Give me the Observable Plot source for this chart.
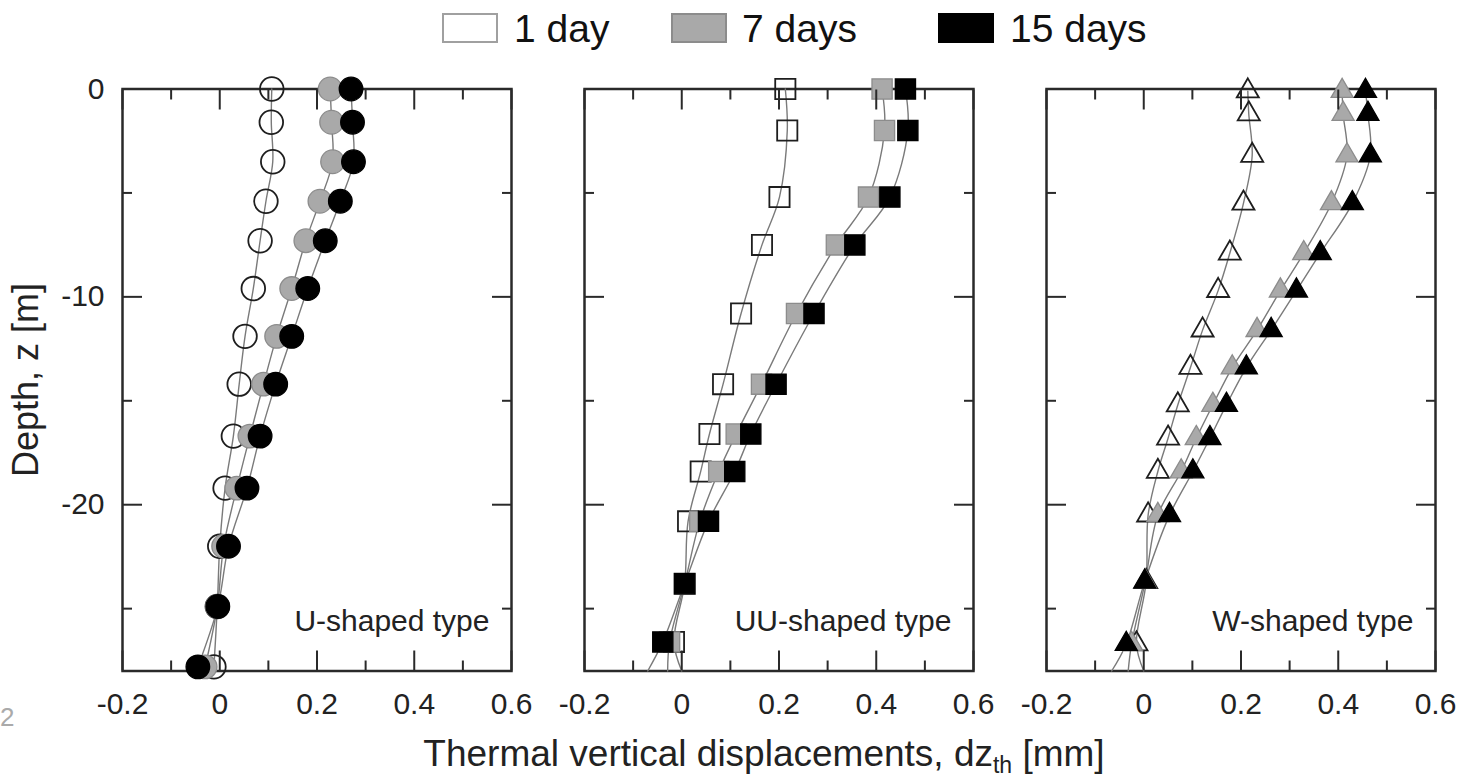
<!DOCTYPE html>
<html><head><meta charset="utf-8">
<script src="https://cdn.jsdelivr.net/npm/d3@7"></script>
<script src="https://cdn.jsdelivr.net/npm/@observablehq/plot@0.6"></script>
<style>
body{margin:0;background:#fff;width:1458px;height:776px;overflow:hidden;font-family:"Liberation Sans",Arial,sans-serif;position:relative;}
#legend{position:relative;height:60px;}
.sw{position:absolute;top:13px;width:56px;height:30px;box-sizing:border-box;}
.lt{position:absolute;top:9px;font-size:39px;line-height:40px;color:#111;white-space:nowrap;}
#chart{position:relative;height:716px;}
#stray{position:absolute;left:0px;top:702px;font-size:26px;color:#aaa;}
</style></head><body>
<div id="legend"></div>
<div id="chart"></div>
<div id="stray">2</div>
<script>
// ---------- data ----------
const panels = ["U-shaped type", "UU-shaped type", "W-shaped type"];
const seriesNames = ["1 day", "7 days", "15 days"];

// U-shaped type (circles)
const depthU = [0, -1.6, -3.5, -5.4, -7.3, -9.6, -11.9, -14.2, -16.7, -19.2, -22.0, -24.9, -27.8];
const u1  = [0.107, 0.106, 0.109, 0.095, 0.083, 0.069, 0.052, 0.040, 0.028, 0.011, 0.000, -0.005, -0.012];
const u7  = [0.227, 0.230, 0.232, 0.206, 0.177, 0.148, 0.117, 0.090, 0.062, 0.035, 0.008, -0.005, -0.030];
const u15 = [0.270, 0.273, 0.275, 0.248, 0.217, 0.181, 0.148, 0.115, 0.083, 0.056, 0.018, -0.004, -0.045];

// UU-shaped type (squares)
const depthUU = [0, -2.0, -5.2, -7.5, -10.8, -14.2, -16.6, -18.4, -20.8, -23.8, -26.6];
const uu1  = [0.213, 0.217, 0.201, 0.165, 0.122, 0.085, 0.057, 0.039, 0.013, 0.006, -0.016];
const uu7  = [0.412, 0.417, 0.384, 0.318, 0.236, 0.164, 0.112, 0.076, 0.037, 0.006, -0.025];
const uu15 = [0.460, 0.465, 0.428, 0.356, 0.272, 0.194, 0.142, 0.109, 0.055, 0.006, -0.039];

// W-shaped type (triangles)
const depthW = [-0.1, -1.2, -3.2, -5.5, -7.9, -9.7, -11.6, -13.4, -15.2, -16.8, -18.4, -20.5, -23.7, -26.7];
const w1  = [0.214, 0.216, 0.223, 0.205, 0.177, 0.153, 0.121, 0.096, 0.070, 0.050, 0.029, 0.009, 0.005, -0.015];
const w7  = [0.408, 0.410, 0.418, 0.386, 0.329, 0.281, 0.233, 0.182, 0.142, 0.108, 0.077, 0.029, 0.003, -0.025];
const w15 = [0.456, 0.461, 0.466, 0.429, 0.363, 0.314, 0.262, 0.211, 0.170, 0.136, 0.101, 0.053, 0.002, -0.036];

// where the fitted curves meet the bottom of the frame (depth -28 m)
const curveEndDepth = -28;
const endUU = [0.000, -0.029, -0.070];
const endW  = [0.000, -0.032, -0.066];

const xMajor = [-0.2, 0, 0.2, 0.4, 0.6];
const xMinor = [-0.1, 0.1, 0.3, 0.5];
const yMajor = [0, -10, -20];
const yMinor = [-5, -15, -25];

// ---------- tables ----------
const sources = [
  {panel: panels[0], depth: depthU,  vals: [u1, u7, u15],    end: null,  symbol: "circle",   r: 11.8},
  {panel: panels[1], depth: depthUU, vals: [uu1, uu7, uu15], end: endUU, symbol: "square",   r: 11.4},
  {panel: panels[2], depth: depthW,  vals: [w1, w7, w15],    end: endW,  symbol: "triangle", r: 8.2}
];
const points = [], curves = [];
sources.forEach(s => {
  s.vals.forEach((v, k) => {
    v.forEach((dz, i) => {
      const row = {panel: s.panel, series: seriesNames[k], z: s.depth[i], dz};
      points.push(row); curves.push(row);
    });
    if (s.end) curves.push({panel: s.panel, series: seriesNames[k], z: curveEndDepth, dz: s.end[k]});
  });
});

const markerStyle = {
  "1 day":   {fill: "none",    stroke: "#1e1e1e", strokeWidth: 1.8},
  "7 days":  {fill: "#a9a9a9", stroke: "#8c8c8c", strokeWidth: 1.3},
  "15 days": {fill: "#000",    stroke: "#000",    strokeWidth: 1.3}
};

// ---------- legend ----------
const legend = document.getElementById("legend");
const swLeft = [442, 671, 938], txtLeft = [514, 742, 1010];
const swStyle = [
  "background:#fff;border:2px solid #a0a0a0;",
  "background:#a9a9a9;border:2px solid #8c8c8c;",
  "background:#000;border:2px solid #000;"
];
seriesNames.forEach((s, i) => {
  const sw = document.createElement("div");
  sw.className = "sw"; sw.style.cssText = swStyle[i] + "left:" + swLeft[i] + "px;";
  legend.appendChild(sw);
  const t = document.createElement("div");
  t.className = "lt"; t.style.left = txtLeft[i] + "px"; t.textContent = s;
  legend.appendChild(t);
});

// ---------- chart ----------
const fmt = d => String(d);
const ink = "#2a2a2a";
const marks = [
  Plot.frame({stroke: ink, strokeWidth: 2.5}),
  Plot.line(curves, {fx: "panel", x: "dz", y: "z", z: "series", curve: "catmull-rom", stroke: "#7a7a7a", strokeWidth: 1.4})
];
sources.forEach(s => {
  seriesNames.forEach(name => {
    marks.push(Plot.dot(points.filter(d => d.panel === s.panel && d.series === name), {
      fx: "panel", x: "dz", y: "z", symbol: s.symbol, r: s.r, ...markerStyle[name]
    }));
  });
});
marks.push(
  Plot.axisX(xMajor, {anchor: "bottom", tickSize: -20, fill: "none", stroke: ink, strokeWidth: 2}),
  Plot.axisX(xMinor, {anchor: "bottom", tickSize: -10, fill: "none", stroke: ink, strokeWidth: 2}),
  Plot.axisX(xMajor, {anchor: "top", tickSize: -20, fill: "none", stroke: ink, strokeWidth: 2}),
  Plot.axisX(xMinor, {anchor: "top", tickSize: -10, fill: "none", stroke: ink, strokeWidth: 2}),
  Plot.axisX(xMajor, {anchor: "bottom", tickSize: 0, tickPadding: 22, tickFormat: fmt, fontSize: 30, fill: "#222", label: null}),
  Plot.axisY(yMajor, {anchor: "left", tickSize: -20, fill: "none", stroke: ink, strokeWidth: 2, facetAnchor: null}),
  Plot.axisY(yMinor, {anchor: "left", tickSize: -10, fill: "none", stroke: ink, strokeWidth: 2, facetAnchor: null}),
  Plot.axisY(yMajor, {anchor: "right", tickSize: -20, fill: "none", stroke: ink, strokeWidth: 2, facetAnchor: null}),
  Plot.axisY(yMinor, {anchor: "right", tickSize: -10, fill: "none", stroke: ink, strokeWidth: 2, facetAnchor: null}),
  Plot.axisY(yMajor, {anchor: "left", tickSize: 0, tickPadding: 18, tickFormat: fmt, fontSize: 30, fill: "#222", label: null}),
  Plot.axisY([], {anchor: "left", tickSize: 0, fontSize: 36, fill: "#222",
    label: "Depth, z [m]", labelAnchor: "center", labelOffset: 110, labelArrow: "none"}),
  Plot.text(panels, {fx: d => d, text: d => d, frameAnchor: "bottom-right", lineAnchor: "bottom", dx: -22, dy: -40, fontSize: 30, fill: "#222"}),
  Plot.text(["Thermal vertical displacements, dz"], {facet: "super", frameAnchor: "bottom", lineAnchor: "bottom", dy: 95, dx: -15, fontSize: 37, fill: "#222", text: d => d})
);

const chart = Plot.plot({
  width: 1458, height: 716,
  marginLeft: 121, marginRight: 22, marginTop: 28.5, marginBottom: 105.5,
  fx: {domain: panels, axis: null, paddingInner: 0.158, paddingOuter: 0},
  x: {domain: [-0.2, 0.6]},
  y: {domain: [-28, 0]},
  style: {fontFamily: "'Liberation Sans', Arial, sans-serif", color: "#222", background: "#fff", overflow: "visible"},
  marks
});
document.getElementById("chart").appendChild(chart);

// subscript "th" and unit on the x title
chart.querySelectorAll("text").forEach(t => {
  if (t.textContent === "Thermal vertical displacements, dz") {
    const ns = "http://www.w3.org/2000/svg";
    const sub = document.createElementNS(ns, "tspan");
    sub.setAttribute("font-size", "23"); sub.setAttribute("dy", "7"); sub.textContent = "th";
    const rest = document.createElementNS(ns, "tspan");
    rest.setAttribute("dy", "-7"); rest.textContent = " [mm]";
    t.appendChild(sub); t.appendChild(rest);
  }
});
</script>
</body></html>
